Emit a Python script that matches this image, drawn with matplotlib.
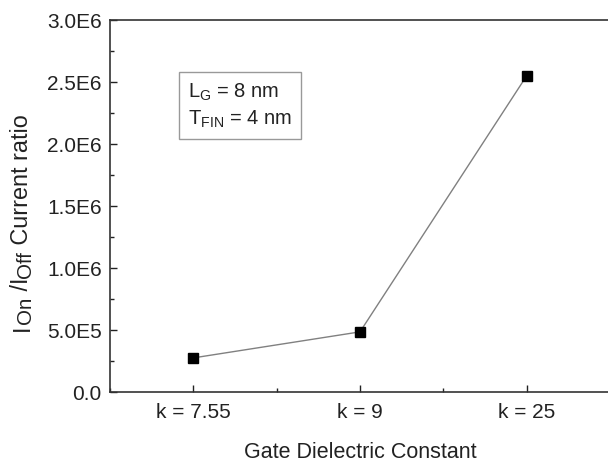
import matplotlib
matplotlib.use("Agg")
import matplotlib.pyplot as plt
from matplotlib.ticker import AutoMinorLocator, MultipleLocator

plt.rcParams['font.family'] = ['Liberation Sans', 'DejaVu Sans']

# data
categories = ['k = 7.55', 'k = 9', 'k = 25']
ratio = [2.75e5, 4.85e5, 2.55e6]
yticks = [0, 5e5, 1e6, 1.5e6, 2e6, 2.5e6, 3e6]
ytick_labels = ['0.0', '5.0E5', '1.0E6', '1.5E6', '2.0E6', '2.5E6', '3.0E6']

W, H = 608, 462
fig = plt.figure(figsize=(W / 100, H / 100), dpi=100)
# right spine sits just past the right edge, as in the reference crop
ax = fig.add_axes([110 / W, 1 - 392 / H, 500 / W, 372 / H])

xpos = [1, 2, 3]
ax.plot(xpos, ratio, color='#808080', linewidth=1.0, marker='s',
        markersize=6.5, markerfacecolor='black', markeredgecolor='black', zorder=3)

ax.set_xlim(0.5, 3.5)
ax.set_ylim(0, 3e6)
ax.set_xticks(xpos)
ax.set_xticklabels(categories)
ax.xaxis.set_minor_locator(MultipleLocator(0.5))
ax.set_yticks(yticks)
ax.set_yticklabels(ytick_labels)
ax.yaxis.set_minor_locator(AutoMinorLocator(2))

ax.tick_params(which='both', direction='in', labelsize=15, colors='#222222')
ax.tick_params(which='major', length=5, width=1)
ax.tick_params(which='minor', length=3, width=1)
ax.tick_params(axis='x', which='minor', bottom=True)
ax.tick_params(axis='x', pad=8)
ax.tick_params(axis='y', pad=6)
for s in ax.spines.values():
    s.set_color('#333333')
    s.set_linewidth(1.2)

ax.set_xlabel('Gate Dielectric Constant', fontsize=15.5, color='#222222', labelpad=14)

ax.text(0.97, 2.31e6, 'L$_{\\mathregular{G}}$ = 8 nm\nT$_{\\mathregular{FIN}}$ = 4 nm',
        fontsize=14.5, color='#222222', va='center', ha='left', linespacing=1.35,
        bbox=dict(boxstyle='square,pad=0.45', facecolor='white', edgecolor='#999999',
                  linewidth=1))

# y label built from pieces: the subscripts are almost full size, only dropped a bit
main_size, sub_size = 16.8, 14.8
pieces = [('I', main_size, 0), ('On', sub_size, 3), (' /I', main_size, 0),
          ('Off', sub_size, 3), (' Current ratio', main_size, 0)]
fig.canvas.draw()
renderer = fig.canvas.get_renderer()
base_x = 28.5
y = H - 331
for txt, size, drop in pieces:
    t = fig.text((base_x + drop) / W, y / H, txt, fontsize=size, color='#222222',
                 rotation=90, rotation_mode='anchor', ha='left', va='baseline')
    y += t.get_window_extent(renderer).height

fig.savefig('out.png', dpi=100)
